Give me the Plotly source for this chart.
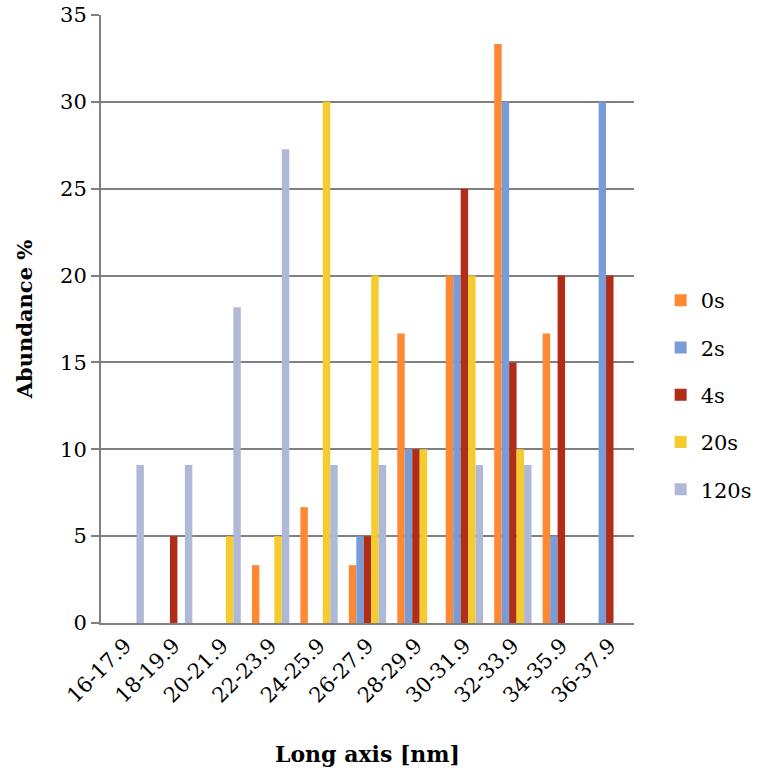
import plotly.graph_objects as go

# Size bins along the long axis (nm)
categories = ["16-17.9", "18-19.9", "20-21.9", "22-23.9", "24-25.9", "26-27.9",
              "28-29.9", "30-31.9", "32-33.9", "34-35.9", "36-37.9"]

# Abundance (%) per bin for each treatment time
s0 = [0, 0, 0, 3.33, 6.67, 3.33, 16.67, 20, 33.33, 16.67, 0]
s2 = [0, 0, 0, 0, 0, 5, 10, 20, 30, 5, 30]
s4 = [0, 5, 0, 0, 0, 5, 10, 25, 15, 20, 20]
s20 = [0, 0, 5, 5, 30, 20, 10, 20, 10, 0, 0]
s120 = [9.09, 9.09, 18.18, 27.27, 9.09, 9.09, 0, 9.09, 9.09, 0, 0]

series_names = ["0s", "2s", "4s", "20s", "120s"]
series_values = [s0, s2, s4, s20, s120]
colors = ["#FF8833", "#779CD7", "#B22D18", "#F5CB2D", "#ADB9D6"]

y_ticks = [0, 5, 10, 15, 20, 25, 30, 35]

FONT = "DejaVu Serif"

fig = go.Figure()
for name, vals, col in zip(series_names, series_values, colors):
    fig.add_trace(go.Bar(
        x=categories, y=vals, name=name, legendgroup=name,
        marker=dict(color=col, line=dict(width=0)),
    ))

fig.update_layout(
    width=761, height=778,
    margin=dict(l=101, r=127, t=15, b=155, autoexpand=False),
    paper_bgcolor="white", plot_bgcolor="white",
    barmode="group", bargap=0.23, bargroupgap=0,
    font=dict(family=FONT, color="black", size=21),
    legend=dict(
        x=1.05, y=0.375, xanchor="left", yanchor="middle",
        font=dict(family=FONT, size=21),
        tracegroupgap=17, itemwidth=30,
    ),
    xaxis=dict(
        title=dict(text="<b>Long axis [nm]</b>", font=dict(family=FONT, size=22), standoff=40),
        tickangle=-45, tickfont=dict(family=FONT, size=21),
        showline=True, linecolor="#808080", linewidth=2,
        ticks="", showgrid=False, automargin=False,
    ),
    yaxis=dict(
        title=dict(text="<b>Abundance %</b>", font=dict(family=FONT, size=21), standoff=22),
        range=[0, 35], tickvals=y_ticks,
        tickfont=dict(family=FONT, size=21),
        showgrid=True, gridcolor="#808080", gridwidth=2,
        showline=True, linecolor="#808080", linewidth=2,
        ticks="outside", ticklen=8, tickcolor="#808080", tickwidth=2,
        zeroline=False, automargin=False,
    ),
)

fig.write_html("out.html")
